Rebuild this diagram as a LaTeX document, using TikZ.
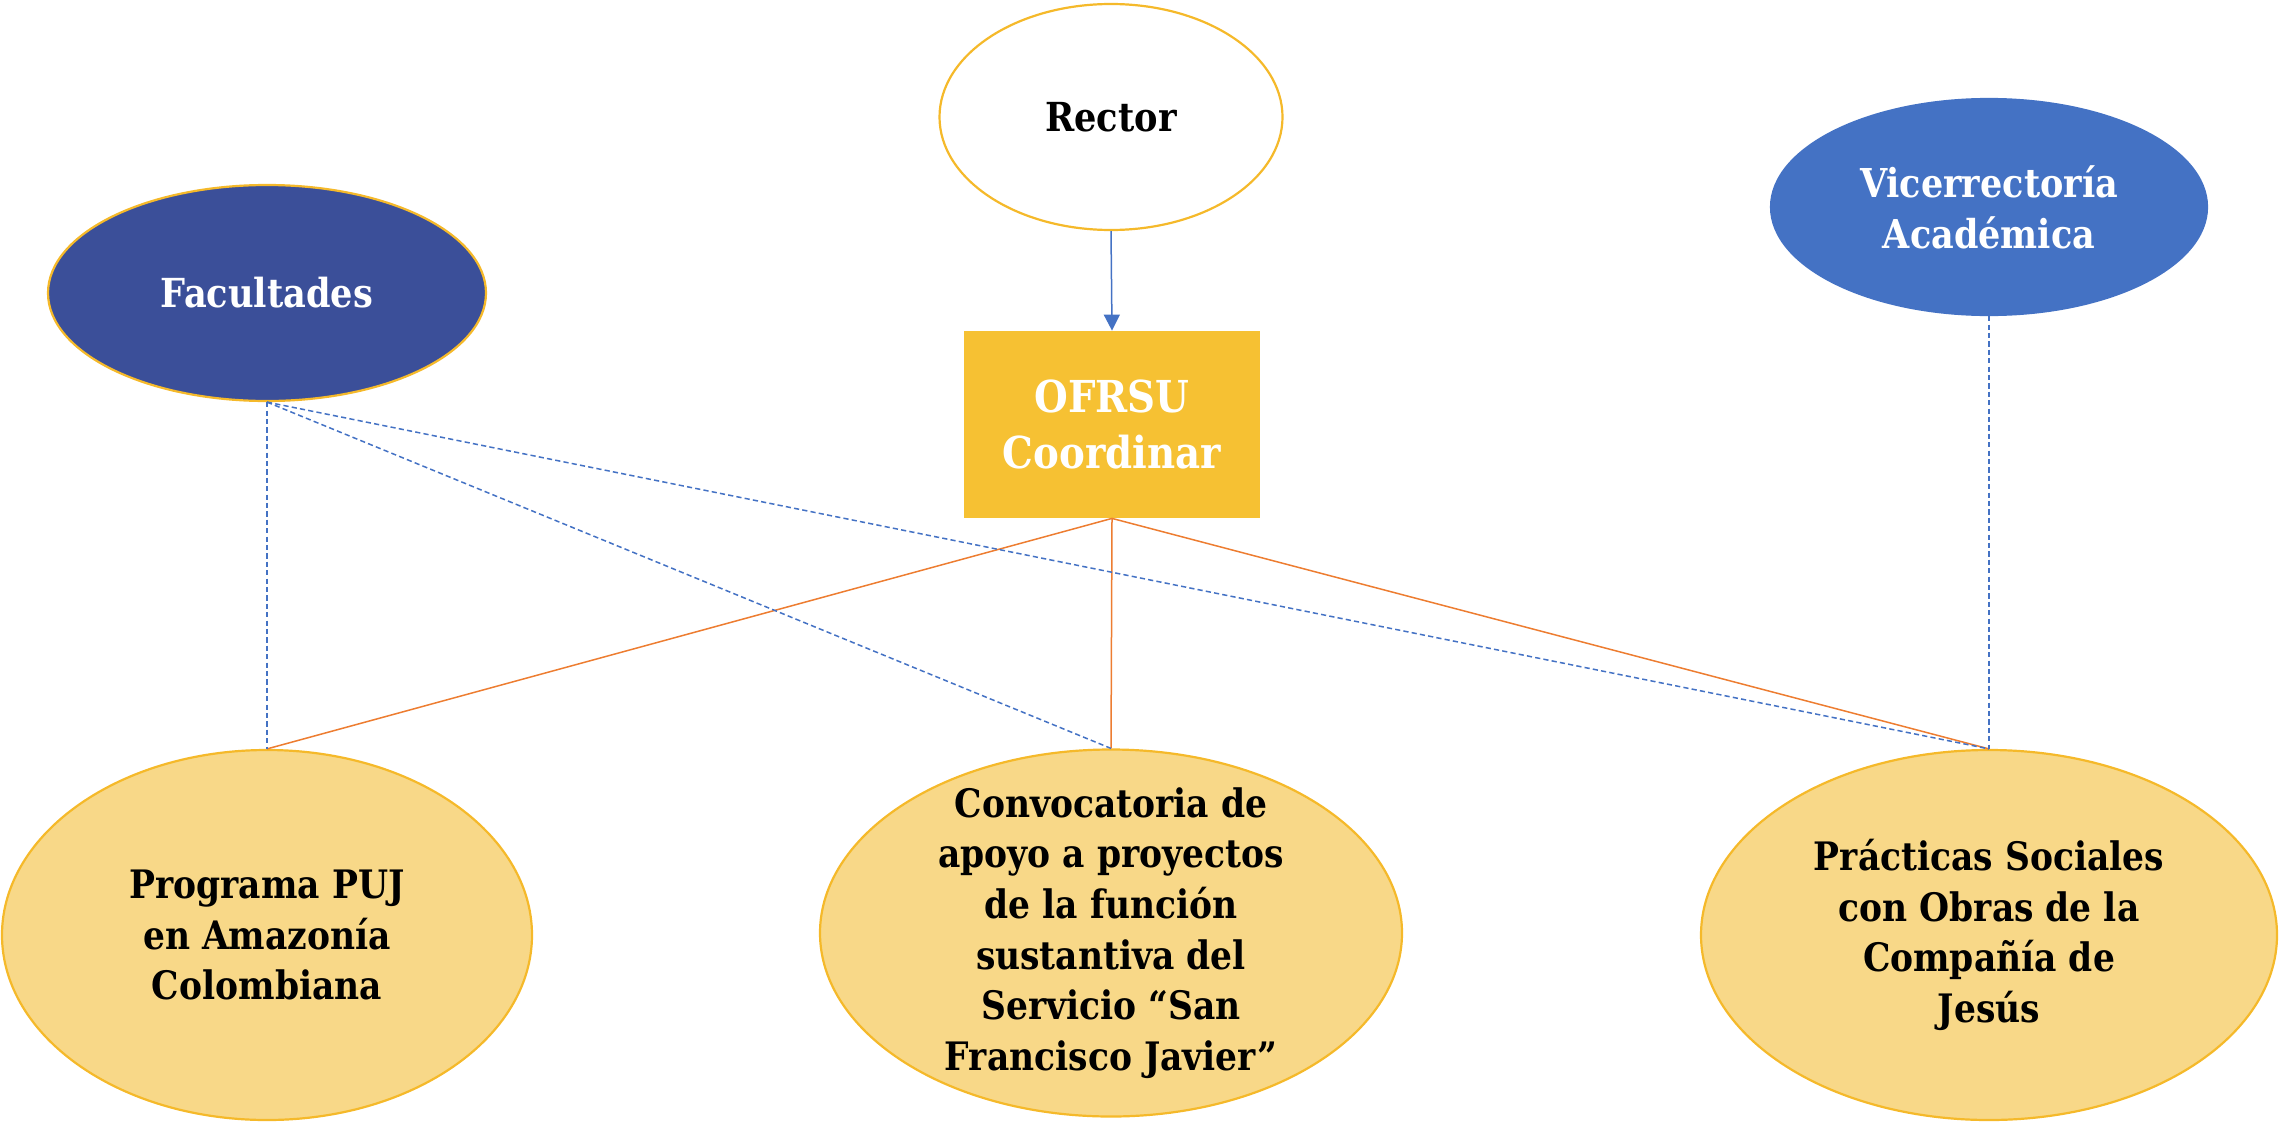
\documentclass[tikz,border=0pt]{standalone}
\usepackage{fontspec}
\setmainfont{DejaVu Serif}[FakeStretch=0.88]
\usetikzlibrary{shapes.geometric,arrows.meta}
\definecolor{goldline}{HTML}{F5B92A}
\definecolor{darkblue}{HTML}{3B4F99}
\definecolor{midblue}{HTML}{4472C4}
\definecolor{boxfill}{HTML}{F6C133}
\definecolor{lightgold}{HTML}{F8D888}
\definecolor{orangeln}{HTML}{ED7D31}
\begin{document}
\begin{tikzpicture}[x=0.5pt,y=-0.5pt,
  ell/.style={ellipse, inner sep=0pt, align=center, line width=1.1pt},
  toptext/.style={font=\bfseries\fontsize{20}{27}\selectfont},
  bottext/.style={align=center, inner sep=0pt, font=\bfseries\fontsize{19.6}{25.3}\selectfont},
  botell/.style={ell, draw=goldline, fill=lightgold},
  orangeconn/.style={draw=orangeln, line width=0.75pt},
  blueconn/.style={draw=midblue, line width=0.75pt, dash pattern=on 2.6pt off 1.6pt},
  bluearrow/.style={draw=midblue, line width=0.75pt, -{Triangle[length=8pt,width=8pt]}}
]
\useasboundingbox (0,0) rectangle (2279,1124);

\node[ell, toptext, draw=goldline, fill=white, minimum width=171.5pt, minimum height=113pt] (rector) at (1111,117) {Rector};
\node[rectangle, fill=boxfill, text=white, font=\bfseries\fontsize{22}{28.4}\selectfont, align=center,
      minimum width=148pt, minimum height=93.5pt, inner sep=0pt] (ofrsu) at (1112,424.5) {OFRSU\\Coordinar};
\node[ell, toptext, draw=goldline, fill=darkblue, text=white, minimum width=219pt, minimum height=108pt] (fac) at (267,293) {Facultades};
\node[ell, font=\bfseries\fontsize{19.9}{25.5}\selectfont, draw=midblue, fill=midblue, text=white, minimum width=218pt, minimum height=108pt] (vice) at (1989,207) {Vicerrectoría\\Académica};

\node[botell, minimum width=265pt, minimum height=185pt] (prog) at (267,935) {};
\node[bottext] (progtext) at (prog.center) {Programa PUJ\\en Amazonía\\Colombiana};
\node[botell, minimum width=291pt, minimum height=183.5pt] (conv) at (1111,933) {};
\node[bottext] (convtext) at (conv.center) {Convocatoria de\\apoyo a proyectos\\de la función\\sustantiva del\\Servicio “San\\Francisco Javier”};
\node[botell, minimum width=288pt, minimum height=185pt] (prac) at (1989,935) {};
\node[bottext] (practext) at (prac.center) {Prácticas Sociales\\con Obras de la\\Compañía de\\Jesús};

\draw[bluearrow] (rector.south) -- (ofrsu.north);
\draw[orangeconn] (ofrsu.south) -- (prog.north);
\draw[orangeconn] (ofrsu.south) -- (conv.north);
\draw[orangeconn] (ofrsu.south) -- (prac.north);
\draw[blueconn] (fac.south) -- (prog.north);
\draw[blueconn] (fac.south) -- (conv.north);
\draw[blueconn] (fac.south) -- (prac.north);
\draw[blueconn] (vice.south) -- (prac.north);
\end{tikzpicture}
\end{document}
